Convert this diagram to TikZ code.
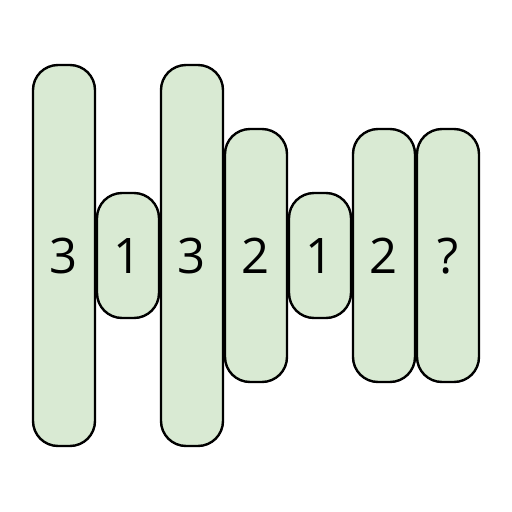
\documentclass[tikz,border=0pt]{standalone}
\usepackage{fontspec}
\setmainfont{Open Sans}
\begin{document}
\begin{tikzpicture}[x=1pt,y=-1pt,
  bar/.style={draw=black,line width=2.4pt,fill=barfill,rounded corners=25pt,
    minimum width=62pt,inner sep=0pt,font=\fontsize{49}{49}\selectfont,text height=35pt,text depth=0pt}]
\definecolor{barfill}{HTML}{D9EAD3}
\useasboundingbox (0,0) rectangle (512,512);
\node[bar,minimum height=381pt] (b1) at (64,255.5) {3};
\node[bar,minimum height=125pt] (b2) at (128,255.5) {1};
\node[bar,minimum height=381pt] (b3) at (192,255.5) {3};
\node[bar,minimum height=253pt] (b4) at (256,255.5) {2};
\node[bar,minimum height=125pt] (b5) at (320,255.5) {1};
\node[bar,minimum height=253pt] (b6) at (384,255.5) {2};
\node[bar,minimum height=253pt] (b7) at (448,255.5) {?};
\end{tikzpicture}
\end{document}
